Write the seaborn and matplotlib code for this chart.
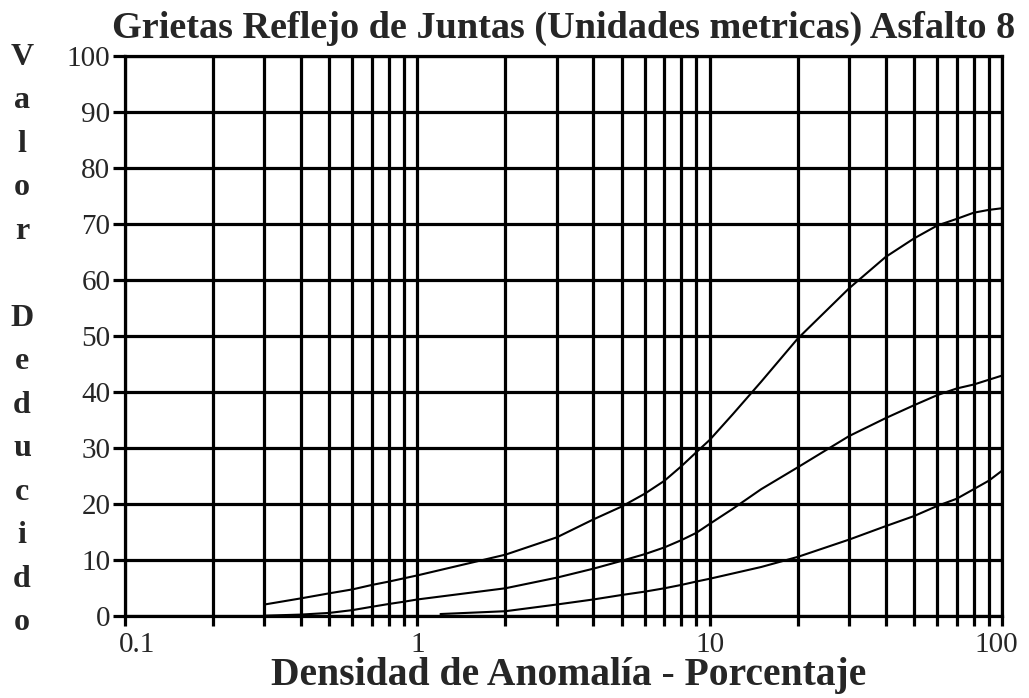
import numpy as np
import pandas as pd
import matplotlib
matplotlib.use("Agg")
import matplotlib.pyplot as plt
import matplotlib.ticker as mticker
import matplotlib.transforms as mtrans
import seaborn as sns

# ---- data ----
title = "Grietas Reflejo de Juntas (Unidades metricas) Asfalto 8"
xlabel = "Densidad de Anomalía - Porcentaje"
ylabel = "Valor Deducido"

high_x = [0.3, 0.4, 0.5, 0.6, 0.7, 0.8, 1, 2, 3, 4, 5, 6, 7, 8, 9, 10, 12, 15, 20, 30, 40, 50, 60, 70, 80, 90, 100]
high_y = [2.0, 3.1, 4.0, 4.7, 5.5, 6.1, 7.2, 10.9, 14.0, 17.2, 19.5, 21.8, 24.1, 26.7, 29.2, 31.4, 36.0, 41.8, 49.5, 58.5, 64.1, 67.4, 69.7, 70.9, 72.0, 72.5, 72.8]

med_x = [0.3, 0.4, 0.5, 0.6, 0.7, 0.8, 0.9, 1, 2, 3, 4, 5, 6, 7, 8, 9, 10, 12, 15, 20, 30, 40, 50, 60, 70, 80, 100]
med_y = [0.0, 0.2, 0.5, 1.0, 1.6, 2.1, 2.5, 2.9, 4.9, 6.8, 8.4, 9.8, 11.0, 12.2, 13.5, 14.8, 16.4, 19.1, 22.6, 26.5, 32.1, 35.3, 37.6, 39.4, 40.6, 41.3, 42.9]

low_x = [1.2, 2, 3, 4, 5, 6, 7, 8, 9, 10, 15, 20, 30, 40, 50, 60, 70, 80, 90, 100]
low_y = [0.3, 0.8, 2.0, 2.9, 3.7, 4.3, 4.9, 5.5, 6.1, 6.6, 8.7, 10.5, 13.6, 16.0, 17.8, 19.6, 20.9, 22.6, 24.1, 25.9]

xticks = [0.1, 1, 10, 100]
xticklabels = ["0.1", "1", "10", "100"]
yticks = [0, 10, 20, 30, 40, 50, 60, 70, 80, 90, 100]

df = pd.concat([
    pd.DataFrame({"x": high_x, "y": high_y, "sev": "H"}),
    pd.DataFrame({"x": med_x, "y": med_y, "sev": "M"}),
    pd.DataFrame({"x": low_x, "y": low_y, "sev": "L"}),
], ignore_index=True)

sns.set_style("white")
plt.rcParams["font.family"] = ["Liberation Serif", "DejaVu Serif"]

W, H = 1029, 698
fig = plt.figure(figsize=(W / 100, H / 100), dpi=100)
ax = fig.add_axes([125 / W, 1 - 615.7 / H, (1002 - 125) / W, (615.7 - 56) / H])

GRID_LW = 2.3
ax.set_xscale("log")
ax.set_xlim(0.1, 100)
ax.set_ylim(0, 100)

ax.xaxis.set_major_locator(mticker.FixedLocator(xticks))
ax.xaxis.set_minor_locator(mticker.LogLocator(base=10, subs=np.arange(2, 10)))
ax.xaxis.set_minor_formatter(mticker.NullFormatter())
ax.set_xticklabels(xticklabels)
ax.set_yticks(yticks)
ax.set_yticklabels([str(v) for v in yticks])

ax.grid(True, which="both", axis="x", color="black", lw=GRID_LW)
ax.grid(True, which="major", axis="y", color="black", lw=GRID_LW)
ax.set_axisbelow(True)

sns.lineplot(data=df, x="x", y="y", hue="sev", palette={"H": "black", "M": "black", "L": "black"},
             legend=False, lw=1.5, ax=ax, sort=False, estimator=None)

for s in ax.spines.values():
    s.set_color("black")
    s.set_linewidth(GRID_LW)

ax.tick_params(axis="x", which="both", direction="out", length=7, width=GRID_LW,
               color="black", labelsize=21, pad=5, bottom=True)
ax.tick_params(axis="y", which="major", direction="out", length=8.5, width=GRID_LW,
               color="black", labelsize=21, pad=2, left=True)
ax.set_xlabel("")
ax.set_ylabel("")

# keep edge labels inside the figure like the reference
labs = ax.get_xticklabels()
labs[0].set_transform(labs[0].get_transform() + mtrans.ScaledTranslation(12 / 100, 0, fig.dpi_scale_trans))
labs[-1].set_transform(labs[-1].get_transform() + mtrans.ScaledTranslation(-6 / 100, 0, fig.dpi_scale_trans))

fig.text(564 / W, 1 - 28 / H, title, ha="center", va="center", fontsize=27.5, fontweight="bold")
fig.text(569 / W, 1 - 676 / H, xlabel, ha="center", va="center", fontsize=28.5, fontweight="bold")
stacked = "\n".join("" if c == " " else c for c in ylabel)
fig.text(22 / W, 1 - 340 / H, stacked,
         ha="center", va="center", fontsize=23, fontweight="bold", linespacing=1.66)

fig.savefig("out.png", dpi=100, facecolor="white")
